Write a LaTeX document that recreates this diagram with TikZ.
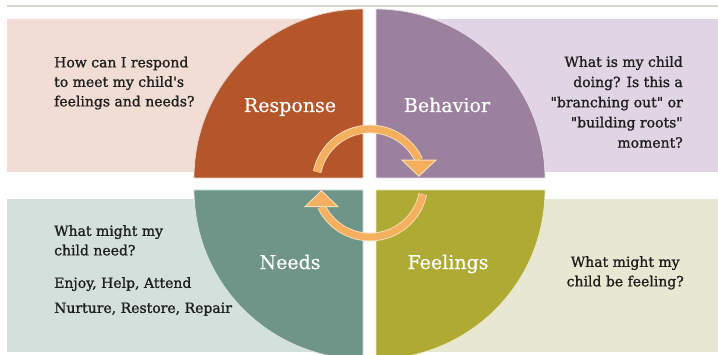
\documentclass[tikz,border=0pt]{standalone}
\usepackage{fontspec}
\setmainfont{DejaVu Serif}
\newfontfamily\bodyfont{DejaVu Serif}[FakeBold=1.2]
\newfontfamily\labelfont{DejaVu Serif}[FakeBold=0.6]
\definecolor{respC}{HTML}{B5552A}
\definecolor{behC}{HTML}{9C819F}
\definecolor{needC}{HTML}{6F9488}
\definecolor{feelC}{HTML}{AEAA33}
\definecolor{respBg}{HTML}{F2DDD5}
\definecolor{behBg}{HTML}{E1D4E4}
\definecolor{needBg}{HTML}{D3E0DB}
\definecolor{feelBg}{HTML}{E8E7D1}
\definecolor{arrowC}{HTML}{F5B05F}
\definecolor{arrowEdge}{HTML}{FBDDB8}
\definecolor{txt}{HTML}{1E1E1E}
\definecolor{ruleC}{HTML}{D9D8CF}
\begin{document}
\begin{tikzpicture}[x=1pt,y=1pt,
  quad/.style={fill=#1,draw=white!75!#1,line width=0.8pt},
  qlabel/.style={text=white,font=\labelfont\fontsize{19}{22}\selectfont,inner sep=0pt,anchor=base},
  body/.style={text=txt,font=\bodyfont\fontsize{14}{19.5}\selectfont,inner sep=0pt},
  arcedge/.style={draw=arrowEdge,line width=8.6pt},
  arcfill/.style={draw=arrowC,line width=6.8pt},
  head/.style={fill=arrowC,draw=arrowEdge,line width=0.9pt,line join=miter}]
\useasboundingbox (0,0) rectangle (718,354);
\clip (0,0) rectangle (718,354);
% top rule
\draw[ruleC,line width=1.5pt] (7,348) -- (718,348);
% background panels
\fill[respBg] (7,182) rectangle (363,335);
\fill[behBg] (376,182) rectangle (718,335);
\fill[needBg] (7,2) rectangle (363,155);
\fill[feelBg] (376,2) rectangle (718,155);
% quadrants
\path[quad=respC] (363,176) -- ++(-169,0) arc[start angle=180,end angle=90,radius=169] -- cycle;
\path[quad=behC] (376,176) -- ++(0,169) arc[start angle=90,end angle=0,radius=169] -- cycle;
\path[quad=needC] (363,164) -- ++(-169,0) arc[start angle=180,end angle=270,radius=169] -- cycle;
\path[quad=feelC] (376,164) -- ++(169,0) arc[start angle=0,end angle=-90,radius=169] -- cycle;
% cycle arrows
\coordinate (c) at (370,171);
\draw[arcedge] ([shift={(168:54)}]c) arc[start angle=168,end angle=25,radius=54];
\draw[arcedge] ([shift={(-12:54)}]c) arc[start angle=-12,end angle=-154,radius=54];
\draw[arcfill] ([shift={(168.5:54)}]c) arc[start angle=168.5,end angle=25,radius=54];
\draw[arcfill] ([shift={(-12.5:54)}]c) arc[start angle=-12.5,end angle=-154,radius=54];
\coordinate (h1) at ([shift={(25:54)}]c);
\coordinate (h2) at ([shift={(-154:54)}]c);
\path[head] ([xshift=-17pt]h1) -- ([xshift=17pt]h1) -- ([yshift=-16pt]h1) -- cycle;
\path[head] ([xshift=-16.5pt]h2) -- ([xshift=16.5pt]h2) -- ([yshift=16pt]h2) -- cycle;
% quadrant labels
\node[qlabel] (resp) at (290,242) {Response};
\node[qlabel] (beh) at (447,242) {Behavior};
\node[qlabel] (need) at (290,85) {Needs};
\node[qlabel] (feel) at (448,85) {Feelings};
% questions
\node[body,anchor=north west,align=left] (qresp) at (54,297.5) {How can I respond\\to meet my child's\\feelings and needs?};
\node[body,anchor=north east,align=right,font=\bodyfont\fontsize{14}{20.2}\selectfont] (qbeh) at (683,298) {What is my child\\doing? Is this a\\\char34 branching out\char34{} or\\\char34 building roots\char34\\moment?};
\node[body,anchor=north west,align=left] (qneed) at (54,129) {What might my\\child need?};
\node[body,anchor=north west,align=left] (qneed2) at (54,77) {Enjoy, Help, Attend\\[5.5pt]Nurture, Restore, Repair};
\node[body,anchor=north east,align=center] (qfeel) at (684,98) {What might my\\child be feeling?};
\end{tikzpicture}
\end{document}
